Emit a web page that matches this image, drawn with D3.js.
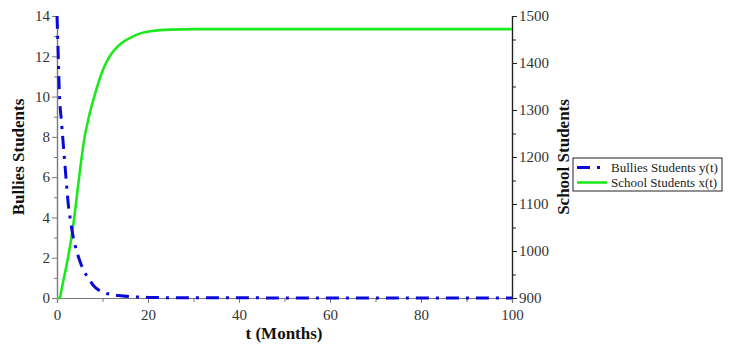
<!DOCTYPE html>
<html>
<head>
<meta charset="utf-8">
<script src="https://cdn.jsdelivr.net/npm/d3@7"></script>
<style>
  body { margin: 0; background: #fff; }
  svg { display: block; font-family: "Liberation Serif", "Times New Roman", serif; }
  svg text { font-family: "Liberation Serif", "Times New Roman", serif !important; }
</style>
</head>
<body>
<svg id="chart" width="729" height="350"></svg>
<script>
// bullies y(t), left axis
const bullyT = [0, 0.2, 0.5, 1, 1.5, 2, 2.5, 3, 3.5, 4, 5, 6, 7, 8, 9, 10, 12, 14, 16, 20, 30, 100];
const bullyY = [14, 12.6, 10.3, 8.7, 7.3, 5.9, 4.6, 3.8, 3.1, 2.6, 1.85, 1.3, 0.95, 0.62, 0.42, 0.3, 0.17, 0.11, 0.07, 0.03, 0.01, 0];

// school students x(t), right axis
const schoolT = [0, 0.6, 1, 1.5, 2, 2.5, 3, 3.5, 4, 5, 6, 7, 8, 9, 10, 11, 12, 14, 16, 18, 21, 25, 30, 100];
const schoolX = [900, 900, 918, 942, 965, 990, 1018, 1050, 1087, 1168, 1238, 1285, 1322, 1355, 1383, 1404, 1420, 1441, 1453, 1462, 1468, 1471, 1472, 1472];

const xTicks = [0, 20, 40, 60, 80, 100];
const yLeftTicks = [0, 2, 4, 6, 8, 10, 12, 14];
const yRightTicks = [900, 1000, 1100, 1200, 1300, 1400, 1500];
const legendLabels = ["Bullies Students y(t)", "School Students x(t)"];

const svg = d3.select("#chart");
const mLeft = 57, mRight = 512, mTop = 16, mBottom = 298;

const x = d3.scaleLinear().domain([0, 100]).range([mLeft, mRight]);
const yL = d3.scaleLinear().domain([0, 14]).range([mBottom, mTop]);
const yR = d3.scaleLinear().domain([900, 1500]).range([mBottom, mTop]);

const axisGray = "#7a7a7a";
const blue = "#0a0ad8", green = "#1ee81e";
const dash = "13,7,3,7";

function styleAxis(g, color) {
  g.attr("font-size", 15);
  g.select(".domain").attr("stroke", color).attr("stroke-width", 1.2);
  g.selectAll(".tick line").attr("stroke", color);
  g.selectAll(".tick text").attr("fill", "#333");
}

// bottom (minor then major)
svg.append("g").attr("transform", `translate(0,${mBottom})`)
  .call(d3.axisBottom(x).tickValues(d3.range(10, 100, 20)).tickSize(4).tickFormat(""))
  .call(g => styleAxis(g, axisGray));
svg.append("g").attr("transform", `translate(0,${mBottom})`)
  .call(d3.axisBottom(x).tickValues(xTicks).tickSize(5).tickPadding(6).tickFormat(d3.format("d")))
  .call(g => styleAxis(g, axisGray));

// left
svg.append("g").attr("transform", `translate(${mLeft},0)`)
  .call(d3.axisLeft(yL).tickValues(d3.range(1, 14, 2)).tickSize(3).tickFormat(""))
  .call(g => styleAxis(g, axisGray));
svg.append("g").attr("transform", `translate(${mLeft},0)`)
  .call(d3.axisLeft(yL).tickValues(yLeftTicks).tickSize(5).tickPadding(2).tickFormat(d3.format("d")))
  .call(g => styleAxis(g, axisGray));

// right
svg.append("g").attr("transform", `translate(${mRight},0)`)
  .call(d3.axisRight(yR).tickValues(d3.range(950, 1500, 100)).tickSize(4).tickFormat(""))
  .call(g => styleAxis(g, "#222"));
svg.append("g").attr("transform", `translate(${mRight},0)`)
  .call(d3.axisRight(yR).tickValues(yRightTicks).tickSize(5).tickPadding(2).tickFormat(d3.format("d")))
  .call(g => styleAxis(g, "#222"));

// lines
const schoolLine = d3.line().x(d => x(d[0])).y(d => yR(d[1])).curve(d3.curveMonotoneX);
const bullyLine = d3.line().x(d => x(d[0])).y(d => yL(d[1])).curve(d3.curveMonotoneX);

svg.append("path")
  .attr("d", schoolLine(d3.zip(schoolT, schoolX)))
  .attr("fill", "none").attr("stroke", green).attr("stroke-width", 2.6);

svg.append("path")
  .attr("d", bullyLine(d3.zip(bullyT, bullyY)))
  .attr("fill", "none").attr("stroke", blue).attr("stroke-width", 3)
  .attr("stroke-dasharray", dash);

// axis titles
const titleStyle = t => t.attr("text-anchor", "middle")
  .attr("font-weight", "bold").attr("font-size", 17).attr("fill", "#111");
svg.append("text").attr("x", 284).attr("y", 339).call(titleStyle).text("t (Months)");
svg.append("text").attr("transform", `translate(24,${(mTop + mBottom) / 2}) rotate(-90)`)
  .call(titleStyle).text("Bullies Students");
svg.append("text").attr("transform", `translate(569,${(mTop + mBottom) / 2}) rotate(-90)`)
  .call(titleStyle).text("School Students");

// legend
const lg = svg.append("g").attr("transform", "translate(573,158)");
lg.append("rect").attr("width", 149).attr("height", 33)
  .attr("fill", "#fff").attr("stroke", "#222").attr("stroke-width", 1);
const lgItems = lg.selectAll("g.item").data(legendLabels).join("g")
  .attr("class", "item").attr("transform", (d, i) => `translate(0,${9.5 + i * 15})`);
lgItems.append("line").attr("x1", 4).attr("x2", 34).attr("y1", 0).attr("y2", 0)
  .attr("stroke", (d, i) => i === 0 ? blue : green)
  .attr("stroke-width", (d, i) => i === 0 ? 3 : 2.6)
  .attr("stroke-dasharray", (d, i) => i === 0 ? dash : null);
lgItems.append("text").attr("x", 38).attr("y", 4.5)
  .attr("font-size", 13).attr("fill", "#222").text(d => d);
</script>
</body>
</html>
